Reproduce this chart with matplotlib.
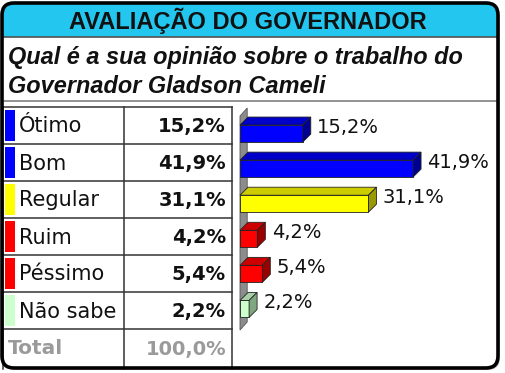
import matplotlib.pyplot as plt
import numpy as np
from matplotlib.patches import FancyBboxPatch, Rectangle, Polygon

# data
categories = ["Ótimo", "Bom", "Regular", "Ruim", "Péssimo", "Não sabe"]
values = [15.2, 41.9, 31.1, 4.2, 5.4, 2.2]
value_labels = ["15,2%", "41,9%", "31,1%", "4,2%", "5,4%", "2,2%"]
total_label = "Total"
total_value = "100,0%"
title = "AVALIAÇÃO DO GOVERNADOR"
question = "Qual é a sua opinião sobre o trabalho do\nGovernador Gladson Cameli"

# colours per category: front, top, side
front_colors = ["#0000ff", "#0000ff", "#ffff00", "#ff0000", "#ff0000", "#ccffcc"]
top_colors = ["#0000c8", "#0000c8", "#cccc00", "#cc0000", "#cc0000", "#a8d0a8"]
side_colors = ["#000090", "#000090", "#999900", "#990000", "#990000", "#80a880"]

W, H = 506, 373
fig = plt.figure(figsize=(W / 100, H / 100), dpi=100)
fig.patch.set_facecolor("white")

# background axes in pixel units
bg = fig.add_axes([0, 0, 1, 1])
bg.set_xlim(0, W)
bg.set_ylim(H, 0)
bg.axis("off")

# shadow + frame
bg.add_patch(FancyBboxPatch((6, 7), 494, 363, boxstyle="round,pad=0,rounding_size=12",
                            fc="#c8c8c8", ec="none", zorder=0))
bg.add_patch(FancyBboxPatch((2, 3), 496, 365, boxstyle="round,pad=0,rounding_size=12",
                            fc="white", ec="none", zorder=1))
# header band
bg.add_patch(FancyBboxPatch((2, 3), 496, 34, boxstyle="round,pad=0,rounding_size=12",
                            fc="#22c6ef", ec="none", zorder=2))
bg.add_patch(Rectangle((2, 22), 496, 15, fc="#22c6ef", ec="none", zorder=2))
bg.plot([2, 498], [37, 37], color="#505050", lw=1.2, zorder=3)
bg.plot([2, 498], [101, 101], color="#808080", lw=1.2, zorder=3)
bg.add_patch(FancyBboxPatch((2, 3), 496, 365, boxstyle="round,pad=0,rounding_size=12",
                            fc="none", ec="black", lw=2.6, zorder=6))

bg.text(248, 21, title, ha="center", va="center", fontsize=17, fontweight="bold",
        family="Liberation Sans", color="#111111", zorder=4)
bg.text(8, 64, question.split("\n")[0], ha="left", va="baseline", fontsize=16.9,
        fontweight="bold", style="italic", family="Liberation Sans", color="#111111", zorder=4)
bg.text(8, 93, question.split("\n")[1], ha="left", va="baseline", fontsize=16.9,
        fontweight="bold", style="italic", family="Liberation Sans", color="#111111", zorder=4)

# table
row_top = 107
row_h = 37
tab_left, tab_mid, tab_right = 3, 124, 232
n = len(categories)
bottom = 369
for i, (cat, lab) in enumerate(zip(categories, value_labels)):
    y0 = row_top + i * row_h
    bg.add_patch(Rectangle((5, y0 + 3), 10, row_h - 6, fc=front_colors[i], ec="none", zorder=4))
    bg.text(19, y0 + row_h / 2 + 1, cat, ha="left", va="center", fontsize=15,
            color="#111111", zorder=4)
    bg.text(226, y0 + row_h / 2 + 1, lab, ha="right", va="center", fontsize=14,
            fontweight="bold", color="#111111", zorder=4)
yt = row_top + n * row_h
bg.text(8, (yt + bottom) / 2, total_label, ha="left", va="center", fontsize=14.5,
        fontweight="bold", color="#9a9a9a", zorder=4)
bg.text(226, (yt + bottom) / 2, total_value, ha="right", va="center", fontsize=14,
        fontweight="bold", color="#9a9a9a", zorder=4)
for i in range(n + 1):
    y = row_top + i * row_h
    bg.plot([tab_left, tab_right], [y, y], color="#333333", lw=1.1, zorder=5)
bg.plot([tab_left, tab_left], [row_top, bottom], color="#333333", lw=1.1, zorder=5)
bg.plot([tab_mid, tab_mid], [row_top, bottom], color="#333333", lw=1.1, zorder=5)
bg.plot([tab_right, tab_right], [row_top, bottom], color="#333333", lw=1.1, zorder=5)

# bar chart axes
px_per_unit = 4.13
xmax = 60
ax_left, ax_top, ax_bot = 240, 116, 326.5
ax = fig.add_axes([ax_left / W, 1 - ax_bot / H, xmax * px_per_unit / W, (ax_bot - ax_top) / H])
ax.set_xlim(0, xmax)
ax.set_ylim(n - 0.5, -0.5)
ax.axis("off")
ax.patch.set_alpha(0)

ypx = (ax_bot - ax_top) / n
ddx = 8 / px_per_unit
ddy = 8 / ypx
h = 17 / ypx

# back wall
ax.add_patch(Polygon([(0, n - 0.4), (0, -0.5), (ddx * 0.9, -0.5 - ddy), (ddx * 0.9, n - 0.4 - ddy)],
                     closed=True, fc="#8c8c8c", ec="#555555", lw=0.6, clip_on=False, zorder=1))

ys = np.arange(n)
ax.barh(ys, values, height=h, color=front_colors, edgecolor="#222222", lw=0.6, zorder=3)
for y, v, tc, sc, lab in zip(ys, values, top_colors, side_colors, value_labels):
    t = y - h / 2
    b = y + h / 2
    ax.add_patch(Polygon([(0, t), (v, t), (v + ddx, t - ddy), (ddx, t - ddy)], closed=True,
                         fc=tc, ec="#222222", lw=0.6, clip_on=False, zorder=3))
    ax.add_patch(Polygon([(v, t), (v + ddx, t - ddy), (v + ddx, b - ddy), (v, b)], closed=True,
                         fc=sc, ec="#222222", lw=0.6, clip_on=False, zorder=3))
    ax.annotate(lab, (v + ddx, y), xytext=(4.5, 4.5), textcoords="offset points",
                ha="left", va="center", fontsize=14, color="#111111", annotation_clip=False)

fig.savefig("out.png", dpi=100)
